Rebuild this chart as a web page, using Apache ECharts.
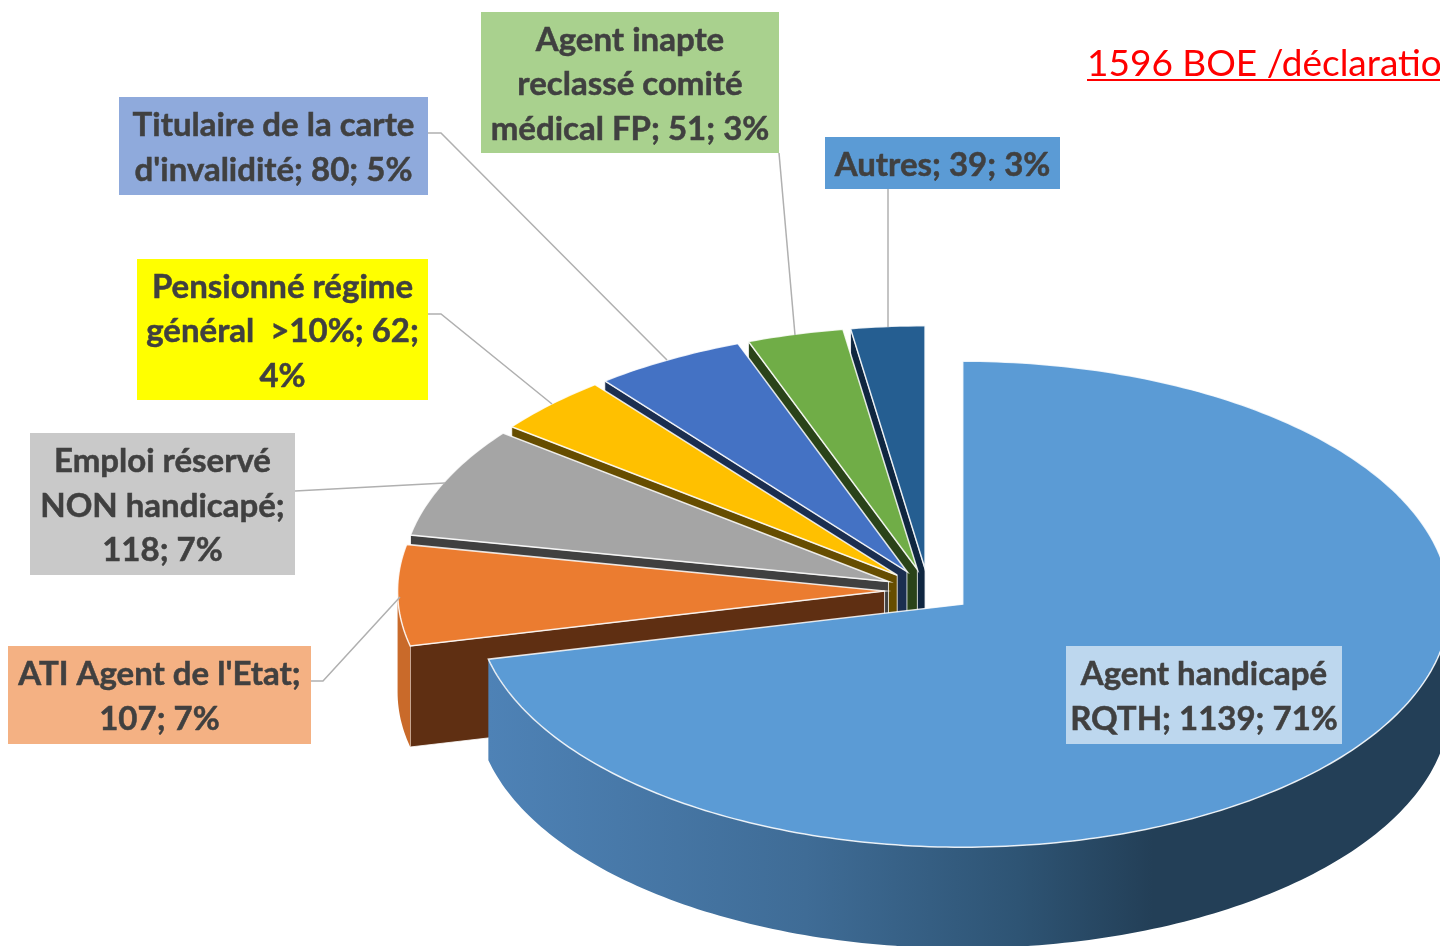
<!DOCTYPE html>
<html lang="fr">
<head>
<meta charset="utf-8">
<title>1596 BOE / déclaration</title>
<script src="https://cdn.jsdelivr.net/npm/echarts@6/dist/echarts.min.js"></script>
<style>html,body{margin:0;padding:0;background:#fff;overflow:hidden}#chart{width:1440px;height:946px}</style>
</head>
<body>
<div id="chart"></div>
<script>
// ---- data, in pie order (clockwise from 12 o'clock) ----
const categories = ['Agent handicapé RQTH', "ATI Agent de l'Etat", 'Emploi réservé NON handicapé', 'Pensionné régime général >10%', "Titulaire de la carte d'invalidité", 'Agent inapte reclassé comité médical FP', 'Autres'];
const values = [1139, 107, 118, 62, 80, 51, 39];
const labelTexts = [
  'Agent handicapé\nRQTH; 1139; 71%',
  "ATI Agent de l'Etat;\n107; 7%",
  'Emploi réservé\nNON handicapé;\n118; 7%',
  'Pensionné régime\ngénéral  >10%; 62;\n4%',
  "Titulaire de la carte\nd'invalidité; 80; 5%",
  'Agent inapte\nreclassé comité\nmédical FP; 51; 3%',
  'Autres; 39; 3%'
];
const titleText = '1596 BOE /déclaration';

// ---- styles ----
const topColors  = ['#5B9BD5', '#EB7C30', '#A5A5A5', '#FFC000', '#4472C4', '#70AD47', '#255E91'];
const faceColors = ['#1F3E5A', '#5F2F12', '#404040', '#664D00', '#1B2E50', '#2A4319', '#0F2640'];
const wallColors = [null, '#C96A2A', '#8A8A8A', '#B88A00', '#32549A', '#527F34', '#1C4A70'];
const boxColors  = ['#BDD7EE', '#F4B183', '#C9C9C9', '#FFFF00', '#8FAADC', '#A9D18E', '#5B9BD5'];

// ---- layout ----
const CX = 928.4, CY = 590.6, RX = 487, RY = 243, DEPTH = 101, EXPLODE = 0.09;
const boxes = [[1066,646,276,98],[8,646,303,98],[30,433,265,142],[137,259,291,141],[119,97,309,98],[481,12,298,141],[825,137,235,52]];
const leaders = [null,
  [[311,681],[323,681],[400,597]],
  [[295,491],[445,483]],
  [[428,314],[441,314],[552,404]],
  [[428,133],[441,133],[667,360]],
  [[779,153],[795,335]],
  [[888,189],[888,327]]];

const total = values.reduce((a, b) => a + b, 0);
const rad = d => d * Math.PI / 180;
const rim = (cx, cy, deg, dy) => [cx + RX * Math.sin(rad(deg)), cy - RY * Math.cos(rad(deg)) + (dy || 0)];
function arc(cx, cy, a0, a1, dy) {
  const pts = [], n = Math.max(2, Math.ceil(Math.abs(a1 - a0)));
  for (let k = 0; k <= n; k++) pts.push(rim(cx, cy, a0 + (a1 - a0) * k / n, dy));
  return pts;
}

function renderItem(params, api) {
  const i = params.dataIndex, v = api.value(0);
  let before = 0;
  for (let k = 0; k < i; k++) before += values[k];
  const a0 = before / total * 360, a1 = (before + v) / total * 360, mid = (a0 + a1) / 2;
  const cx = CX + EXPLODE * RX * Math.sin(rad(mid));
  const cy = CY - EXPLODE * RY * Math.cos(rad(mid));
  const z = i === 0 ? 90 : 80 - i * 10;   // back-to-front: Autres ... ATI, Agent last
  const children = [];
  // radial cut face on the leading edge
  const p0 = rim(cx, cy, a0);
  children.push({
    type: 'polygon', z2: z,
    shape: { points: [[cx, cy], p0, [p0[0], p0[1] + DEPTH], [cx, cy + DEPTH]] },
    style: { fill: faceColors[i], stroke: 'rgba(255,255,255,0.8)', lineWidth: 1 }
  });
  // visible outer wall (front half of the rim only)
  const w0 = Math.max(a0, 90), w1 = Math.min(a1, 270);
  if (w1 > w0) {
    const wall = arc(cx, cy, w0, w1).concat(arc(cx, cy, w1, w0, DEPTH));
    const fill = i === 0 ? {
      type: 'linear', global: true, x: 488, y: 0, x2: 1451, y2: 0,
      colorStops: [
        { offset: 0, color: '#4E82B6' }, { offset: 0.33, color: '#3F6C96' },
        { offset: 0.55, color: '#2E5474' }, { offset: 0.69, color: '#233F57' }, { offset: 1, color: '#233F57' }
      ]
    } : wallColors[i];
    children.push({ type: 'polygon', z2: z + 1, shape: { points: wall }, style: { fill: fill } });
  }
  // top face
  children.push({
    type: 'polygon', z2: z + 2,
    shape: { points: [[cx, cy]].concat(arc(cx, cy, a0, a1)) },
    style: { fill: topColors[i], stroke: 'rgba(255,255,255,0.85)', lineWidth: 1.5, lineJoin: 'miter' }
  });
  // leader line
  if (leaders[i]) children.push({
    type: 'polyline', z2: 100,
    shape: { points: leaders[i] },
    style: { fill: 'none', stroke: '#B0B0B0', lineWidth: 1.5 }
  });
  // data label
  const b = boxes[i];
  children.push({
    type: 'rect', z2: 110,
    shape: { x: b[0], y: b[1], width: b[2], height: b[3] },
    style: { fill: boxColors[i] }
  });
  children.push({
    type: 'text', z2: 120,
    style: {
      x: b[0] + b[2] / 2, y: b[1] + b[3] / 2 + 2, text: labelTexts[i], fill: '#404040',
      stroke: '#404040', lineWidth: 0.5,
      font: 'bold 33px Lato', lineHeight: 44.5, align: 'center', verticalAlign: 'middle'
    }
  });
  return { type: 'group', children };
}

const chart = echarts.init(document.getElementById('chart'), null, { renderer: 'canvas' });
chart.setOption({
  animation: false,
  backgroundColor: '#ffffff',
  tooltip: { show: false },
  title: {
    text: titleText, left: 1082, top: 41,
    textStyle: { color: '#FF0000', fontFamily: 'Lato', fontWeight: 'normal', fontSize: 37 }
  },
  graphic: [{
    type: 'line', shape: { x1: 1087, y1: 80, x2: 1440, y2: 80 },
    style: { stroke: '#FF0000', lineWidth: 2 }
  }],
  series: [{
    type: 'custom',
    coordinateSystem: 'none',
    renderItem: renderItem,
    clip: false,
    data: categories.map((name, i) => ({ name, value: [values[i]] }))
  }]
});
</script>
</body>
</html>
